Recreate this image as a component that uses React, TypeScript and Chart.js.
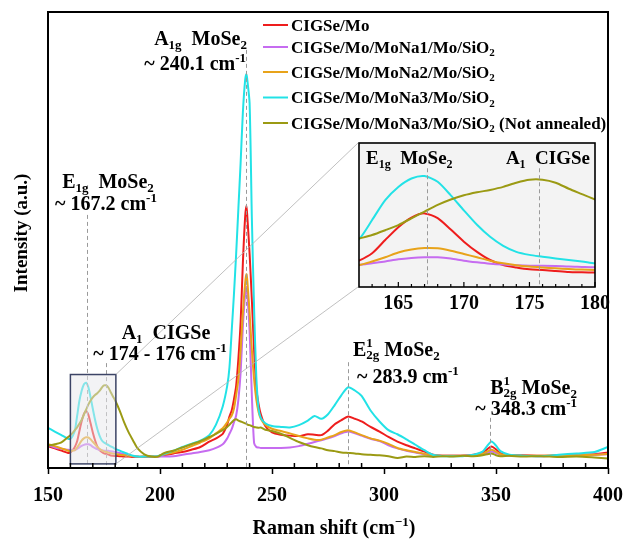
import React, { useEffect, useRef } from "react";
import { Chart, registerables } from "chart.js";

Chart.register(...registerables);

const FONT = '"Liberation Serif", "Times New Roman", serif';

// Raman shift (cm-1) sample positions
const ramanShift = [
  150, 153, 156, 159,
  160, 161, 162, 163, 164, 165, 166, 167, 168, 169, 170,
  171, 172, 173, 174, 175, 176, 177, 178, 179, 180,
  182, 184, 186, 188, 190,
  193, 196, 199, 202,
  206, 210, 214, 218, 222,
  225, 228, 230, 231, 232, 233, 234, 235, 236, 237, 238,
  238.6, 239, 240, 241, 242, 243, 244, 245,
  247, 250, 254, 258, 262, 266, 269, 272, 275, 278, 281, 284, 287, 290,
  294, 298, 302, 306, 310, 314, 318, 322, 326, 330,
  335, 340, 344, 346, 348, 350, 352, 356,
  362, 370, 378, 386, 394, 400,
];

const cigseMo = [
  4.8, 4.3, 3.8, 3.3,
  3.4, 3.9, 4.64, 5.86, 8.07, 10.2, 11.8, 12.5, 11.7, 9.8, 7.8,
  6.1, 4.75, 3.9, 3.5, 3.2, 3.1, 2.93, 2.76, 2.7, 2.65,
  2.6, 2.5, 2.5, 2.4, 2.4,
  2.4, 2.4, 2.5, 2.8,
  3.2, 3.5, 4.0, 4.6, 5.8,
  6.5, 7.5, 9.5, 11.3, 12.6, 15, 18, 24, 32, 45, 55,
  57.5, 55, 47, 37, 26, 17.5, 14, 11.8,
  9.2, 7.8, 7.3, 7.1, 7.0, 7.4, 7.3, 7.2, 8.2, 9.6, 10.5, 11.3, 10.8, 10.2,
  9.0, 8.0, 6.8, 5.8, 5.0, 4.3, 3.6, 2.9, 2.7, 2.7,
  2.7, 2.9, 3.4, 4.1, 4.7, 4.1, 3.2, 2.8,
  2.8, 2.7, 2.8, 2.9, 3.0, 3.4,
];

const moNa1 = [
  5.0, 4.5, 4.2, 4.0,
  3.9, 3.9, 3.9, 4.2, 4.5, 4.86, 5.08, 5.2, 5.2, 5.0, 4.64,
  4.37, 4.14, 3.98, 3.87, 3.8, 3.8, 3.76, 3.65, 3.6, 3.54,
  3.3, 3.0, 2.8, 2.6, 2.5,
  2.5, 2.5, 2.5, 2.5,
  2.6, 2.9, 3.2, 3.5, 3.9,
  4.4, 5.2, 6.5, 7.5, 8.5, 10, 11.5, 15, 21, 31, 38,
  39.8, 38, 30, 16, 5.5, 4.6, 4.5, 4.4,
  4.4, 4.4, 4.4, 4.5, 4.8, 5.3, 5.7, 6.1, 6.5, 7.0, 7.6, 8.0, 7.6, 7.1,
  6.4, 5.9, 5.0, 4.3, 3.8, 3.4, 3.0, 2.8, 2.7, 2.7,
  2.7, 2.8, 3.0, 3.3, 3.6, 3.3, 2.9, 2.7,
  2.7, 2.6, 2.7, 2.8, 2.9, 3.0,
];

const moNa2 = [
  5.2, 4.8, 4.3, 3.8,
  3.7, 3.8, 3.9, 4.5, 5.2, 6.0, 6.5, 6.74, 6.69, 6.3, 5.75,
  5.2, 4.64, 4.2, 3.87, 3.65, 3.5, 3.37, 3.26, 3.15, 3.1,
  2.9, 2.8, 2.7, 2.6, 2.5,
  2.5, 2.5, 2.6, 3.0,
  3.4, 4.0, 4.8, 5.6, 6.5,
  7.6, 8.7, 10, 10.8, 11.5, 13, 16, 19.5, 26, 34, 40.5,
  42.5, 41, 34, 26, 19.5, 15, 12.3, 10.8,
  9.5, 8.6, 8.1, 7.6, 7.0, 6.5, 6.2, 6.2, 6.7, 7.2, 7.9, 8.3, 7.8, 7.2,
  6.5, 6.0, 5.3, 4.4, 3.9, 3.5, 3.1, 2.8, 2.7, 2.7,
  2.7, 2.8, 3.1, 3.6, 4.0, 3.6, 3.0, 2.8,
  2.7, 2.7, 2.8, 2.8, 2.9, 3.1,
];

const moNa3 = [
  8.8, 8.0, 7.2, 6.4,
  6.4, 7.0, 8.2, 11.4, 14.7, 16.9, 18.3, 18.7, 17.75, 15.5, 13.0,
  10.6, 8.6, 7.1, 6.1, 5.6, 5.3, 5.0, 4.75, 4.5, 4.2,
  3.8, 3.4, 3.0, 2.7, 2.5,
  2.5, 2.5, 2.6, 3.1,
  3.8, 4.6, 5.3, 6.0, 7.2,
  9.5, 13.5, 18, 22, 30, 38, 47, 57, 67, 78, 85,
  86.4, 85, 80, 55, 35, 20, 13, 11,
  9.8, 9.2, 9.0, 8.9, 9.4, 10.4, 11.4, 10.8, 11.8, 13.8, 16.0, 17.7, 17.0, 15.8,
  12.6, 10.2, 8.3, 7.4, 6.3, 5.1, 3.9, 2.85, 2.6, 2.6,
  2.6, 2.9, 3.6, 4.8, 5.8, 4.9, 3.7, 2.9,
  2.7, 2.6, 2.9, 3.2, 3.5, 4.6,
];

const moNa3NotAnnealed = [
  4.9, 5.2, 5.6, 6.8,
  7.2, 7.7, 8.3, 8.9, 9.7, 10.56, 11.67, 12.8, 13.9, 14.8, 15.5,
  16.0, 16.4, 16.9, 17.6, 18.1, 18.1, 17.6, 16.6, 15.7, 14.8,
  12.6, 10.0, 7.8, 6.0, 4.3,
  3.0, 2.5, 2.5, 3.3,
  3.8, 4.5, 5.2, 5.9, 6.8,
  7.5, 8.3, 9.0, 9.5, 10.0, 10.5, 10.7, 10.4, 10.2, 10.0, 9.8,
  9.7, 9.5, 9.4, 9.2, 9.0, 8.9, 8.8, 8.9,
  8.4, 8.1, 7.5, 6.6, 5.7, 5.0, 4.6, 4.3, 3.9, 3.7, 3.4, 3.3, 3.2, 3.0,
  2.9, 2.8, 2.6, 2.2, 2.5, 2.4, 2.6, 2.4, 2.6, 2.5,
  2.7, 2.6, 2.8, 3.0, 3.2, 2.8, 2.6, 2.7,
  2.5, 2.6, 2.4, 2.5, 2.3, 2.1,
];

const seriesNames = [
  "CIGSe/Mo",
  "CIGSe/Mo/MoNa1/Mo/SiO2",
  "CIGSe/Mo/MoNa2/Mo/SiO2",
  "CIGSe/Mo/MoNa3/Mo/SiO2",
  "CIGSe/Mo/MoNa3/Mo/SiO2 (Not annealed)",
];
const seriesColors = ["#ee1d1d", "#c66cf0", "#e8a31a", "#22e2e6", "#9b9a13"];
const seriesValues = [cigseMo, moNa1, moNa2, moNa3, moNa3NotAnnealed];

const xTicks = [150, 200, 250, 300, 350, 400];
const xMinorTicks = [160, 170, 180, 190, 210, 220, 230, 240, 260, 270, 280, 290, 310, 320, 330, 340, 360, 370, 380, 390];
const insetTicks = [165, 170, 175, 180];
const insetMinorTicks = [163, 164, 166, 167, 168, 169, 171, 172, 173, 174, 176, 177, 178, 179];

// dashed peak markers: [shift, top intensity]
const peakMarkers = [
  [167.2, 55.5],
  [175.7, 23],
  [238.5, 91.7],
  [283.9, 23.2],
  [347.5, 11],
];
const insetMarkers = [167.2, 175.7];
// zoom region shown in the inset
const zoomBox = { x0: 160, x1: 180.3, y0: 0.9, y1: 20.5 };
const insetRange = { xMin: 162, xMax: 180, yMin: 0.26, yMax: 24.2 };

type Seg = { t: string; k?: "sub" | "sup" | "stack"; s?: string };

const legendLabels: Seg[][] = [
  [{ t: "CIGSe/Mo" }],
  [{ t: "CIGSe/Mo/MoNa1/Mo/SiO" }, { t: "2", k: "sub" }],
  [{ t: "CIGSe/Mo/MoNa2/Mo/SiO" }, { t: "2", k: "sub" }],
  [{ t: "CIGSe/Mo/MoNa3/Mo/SiO" }, { t: "2", k: "sub" }],
  [{ t: "CIGSe/Mo/MoNa3/Mo/SiO" }, { t: "2", k: "sub" }, { t: " (Not annealed)" }],
];
const legendRows = [25, 47, 72, 97.5, 123];

type Note = { segs: Seg[]; x: number; y: number; align: "left" | "right" | "center" };
const notes: Note[] = [
  { segs: [{ t: "A" }, { t: "1g", k: "sub" }, { t: "  MoSe" }, { t: "2", k: "sub" }], x: 247, y: 38, align: "right" },
  { segs: [{ t: "~ 240.1 cm" }, { t: "-1", k: "sup" }], x: 246, y: 63, align: "right" },
  { segs: [{ t: "E" }, { t: "1g", k: "sub" }, { t: "  MoSe" }, { t: "2", k: "sub" }], x: 108, y: 181, align: "center" },
  { segs: [{ t: "~ 167.2 cm" }, { t: "-1", k: "sup" }], x: 106, y: 203, align: "center" },
  { segs: [{ t: "A" }, { t: "1", k: "sub" }, { t: "  CIGSe" }], x: 166, y: 332, align: "center" },
  { segs: [{ t: "~ 174 - 176 cm" }, { t: "-1", k: "sup" }], x: 160, y: 353, align: "center" },
  { segs: [{ t: "E" }, { t: "1", k: "stack", s: "2g" }, { t: " MoSe" }, { t: "2", k: "sub" }], x: 353, y: 349, align: "left" },
  { segs: [{ t: "~ 283.9 cm" }, { t: "-1", k: "sup" }], x: 357, y: 376, align: "left" },
  { segs: [{ t: "B" }, { t: "1", k: "stack", s: "2g" }, { t: " MoSe" }, { t: "2", k: "sub" }], x: 577, y: 387, align: "right" },
  { segs: [{ t: "~ 348.3 cm" }, { t: "-1", k: "sup" }], x: 577, y: 408, align: "right" },
];
const insetNotes: Note[] = [
  { segs: [{ t: "E" }, { t: "1g", k: "sub" }, { t: "  MoSe" }, { t: "2", k: "sub" }], x: 36, y: 28, align: "left" },
  { segs: [{ t: "A" }, { t: "1", k: "sub" }, { t: "  CIGSe" }], x: 260, y: 28, align: "right" },
];

function segWidth(ctx: CanvasRenderingContext2D, seg: Seg, size: number) {
  const small = Math.round(size * 0.65);
  if (!seg.k) {
    ctx.font = `bold ${size}px ${FONT}`;
    return ctx.measureText(seg.t).width;
  }
  ctx.font = `bold ${small}px ${FONT}`;
  const w = ctx.measureText(seg.t).width;
  if (seg.k === "stack") return Math.max(w, ctx.measureText(seg.s || "").width);
  return w;
}

function drawRich(ctx: CanvasRenderingContext2D, segs: Seg[], x: number, y: number, align: string, size: number) {
  const widths = segs.map((s) => segWidth(ctx, s, size));
  const total = widths.reduce((a, b) => a + b, 0);
  let cx = align === "left" ? x : align === "right" ? x - total : x - total / 2;
  const base = y + size * 0.33;
  const small = Math.round(size * 0.65);
  ctx.save();
  ctx.fillStyle = "#000";
  ctx.textAlign = "left";
  ctx.textBaseline = "alphabetic";
  segs.forEach((s, i) => {
    if (!s.k) {
      ctx.font = `bold ${size}px ${FONT}`;
      ctx.fillText(s.t, cx, base);
    } else {
      ctx.font = `bold ${small}px ${FONT}`;
      if (s.k === "sub") ctx.fillText(s.t, cx, base + size * 0.22);
      else if (s.k === "sup") ctx.fillText(s.t, cx, base - size * 0.38);
      else {
        ctx.fillText(s.t, cx, base - size * 0.42);
        ctx.fillText(s.s || "", cx, base + size * 0.15);
      }
    }
    cx += widths[i];
  });
  ctx.restore();
}

function makeDatasets() {
  return seriesValues.map((vals, i) => ({
    label: seriesNames[i],
    data: ramanShift.map((x, j) => ({ x, y: vals[j] })),
    borderColor: seriesColors[i],
    backgroundColor: seriesColors[i],
    borderWidth: 2,
    pointRadius: 0,
    tension: 0.25,
    fill: false,
    order: seriesValues.length - 1 - i,
  }));
}

const mainPlugin = {
  id: "ramanMainDecor",
  afterDatasetsDraw(chart: any) {
    const ctx: CanvasRenderingContext2D = chart.ctx;
    const { left, right, top, bottom } = chart.chartArea;
    const xs = chart.scales.x;
    const ys = chart.scales.y;
    ctx.save();
    // dashed peak markers
    ctx.strokeStyle = "#9a9a9a";
    ctx.lineWidth = 1;
    ctx.setLineDash([4, 3]);
    peakMarkers.forEach(([v, t]) => {
      const px = Math.round(xs.getPixelForValue(v)) + 0.5;
      ctx.beginPath();
      ctx.moveTo(px, ys.getPixelForValue(t));
      ctx.lineTo(px, bottom);
      ctx.stroke();
    });
    ctx.setLineDash([]);
    // zoom box
    const bx0 = xs.getPixelForValue(zoomBox.x0);
    const bx1 = xs.getPixelForValue(zoomBox.x1);
    const by0 = ys.getPixelForValue(zoomBox.y1);
    const by1 = ys.getPixelForValue(zoomBox.y0);
    ctx.fillStyle = "rgba(232,232,236,0.5)";
    ctx.fillRect(bx0, by0, bx1 - bx0, by1 - by0);
    ctx.strokeStyle = "#3c4466";
    ctx.lineWidth = 1.5;
    ctx.strokeRect(bx0, by0, bx1 - bx0, by1 - by0);
    // connectors to inset (inset plot corners at 358,143 and 358,287)
    ctx.strokeStyle = "#b0b0b0";
    ctx.lineWidth = 0.8;
    ctx.beginPath();
    ctx.moveTo(bx1, by0);
    ctx.lineTo(358, 143);
    ctx.moveTo(bx1, by1);
    ctx.lineTo(358, 287);
    ctx.stroke();
    // minor ticks (inward)
    ctx.strokeStyle = "#000";
    ctx.lineWidth = 1.5;
    ctx.beginPath();
    xMinorTicks.forEach((v) => {
      const px = xs.getPixelForValue(v);
      ctx.moveTo(px, bottom);
      ctx.lineTo(px, bottom - 5);
    });
    ctx.stroke();
    // frame
    ctx.lineWidth = 2;
    ctx.strokeRect(left, top, right - left, bottom - top);
    ctx.restore();
  },
  afterDraw(chart: any) {
    const ctx: CanvasRenderingContext2D = chart.ctx;
    notes.forEach((n) => drawRich(ctx, n.segs, n.x, n.y, n.align, 20));
    // legend
    ctx.save();
    legendRows.forEach((ry, i) => {
      ctx.strokeStyle = seriesColors[i];
      ctx.lineWidth = 2;
      ctx.beginPath();
      ctx.moveTo(263, ry);
      ctx.lineTo(288, ry);
      ctx.stroke();
      drawRich(ctx, legendLabels[i], 291, ry, "left", 17);
    });
    ctx.restore();
    // axis titles
    drawRich(ctx, [{ t: "Raman shift (cm" }, { t: "\u22121", k: "sup" }, { t: ")" }], 334, 527, "center", 20);
    ctx.save();
    ctx.translate(21, 233);
    ctx.rotate(-Math.PI / 2);
    drawRich(ctx, [{ t: "Intensity (a.u.)" }], 0, 0, "center", 19);
    ctx.restore();
  },
};

const insetPlugin = {
  id: "ramanInsetDecor",
  beforeDatasetsDraw(chart: any) {
    const ctx: CanvasRenderingContext2D = chart.ctx;
    const { left, right, top, bottom } = chart.chartArea;
    ctx.save();
    ctx.fillStyle = "#f3f3f3";
    ctx.fillRect(left, top, right - left, bottom - top);
    ctx.restore();
  },
  afterDatasetsDraw(chart: any) {
    const ctx: CanvasRenderingContext2D = chart.ctx;
    const { left, right, top, bottom } = chart.chartArea;
    const xs = chart.scales.x;
    const ys = chart.scales.y;
    ctx.save();
    ctx.strokeStyle = "#9a9a9a";
    ctx.lineWidth = 1;
    ctx.setLineDash([4, 3]);
    insetMarkers.forEach((v) => {
      const px = Math.round(xs.getPixelForValue(v)) + 0.5;
      ctx.beginPath();
      ctx.moveTo(px, ys.getPixelForValue(20));
      ctx.lineTo(px, bottom);
      ctx.stroke();
    });
    ctx.setLineDash([]);
    ctx.strokeStyle = "#000";
    ctx.lineWidth = 1.2;
    ctx.beginPath();
    insetMinorTicks.forEach((v) => {
      const px = xs.getPixelForValue(v);
      ctx.moveTo(px, bottom);
      ctx.lineTo(px, bottom - 3);
    });
    insetTicks.forEach((v) => {
      const px = xs.getPixelForValue(v);
      ctx.moveTo(px, bottom);
      ctx.lineTo(px, bottom - 5);
    });
    ctx.stroke();
    ctx.lineWidth = 1.6;
    ctx.strokeRect(left, top, right - left, bottom - top);
    ctx.restore();
  },
  afterDraw(chart: any) {
    const ctx: CanvasRenderingContext2D = chart.ctx;
    insetNotes.forEach((n) => drawRich(ctx, n.segs, n.x, n.y, n.align, 19));
  },
};

export default function App() {
  const mainRef = useRef<HTMLCanvasElement>(null);
  const insetRef = useRef<HTMLCanvasElement>(null);

  useEffect(() => {
    const tickFont = { family: FONT, size: 20, weight: "bold" as const };
    const main = new Chart(mainRef.current as HTMLCanvasElement, {
      type: "line",
      data: { datasets: makeDatasets() as any },
      options: {
        animation: false,
        responsive: false,
        layout: { padding: { left: 0, top: 12, right: 18, bottom: 0 } },
        plugins: { legend: { display: false }, tooltip: { enabled: false } },
        scales: {
          x: {
            type: "linear",
            min: 150,
            max: 400,
            afterBuildTicks: (s: any) => {
              s.ticks = xTicks.map((v) => ({ value: v }));
            },
            afterFit: (s: any) => {
              s.height = 75;
            },
            ticks: { font: tickFont, color: "#000", padding: 10, maxRotation: 0, autoSkip: false },
            grid: { drawOnChartArea: false, drawTicks: true, tickLength: 6, tickColor: "#000", tickWidth: 1.5 },
            border: { display: false },
          },
          y: {
            type: "linear",
            min: 0,
            max: 100,
            afterFit: (s: any) => {
              s.width = 48;
            },
            ticks: { display: false },
            grid: { display: false },
            border: { display: false },
          },
        },
      } as any,
      plugins: [mainPlugin],
    });

    const inset = new Chart(insetRef.current as HTMLCanvasElement, {
      type: "line",
      data: { datasets: makeDatasets() as any },
      options: {
        animation: false,
        responsive: false,
        layout: { padding: { left: 0, top: 13, right: 25, bottom: 0 } },
        plugins: { legend: { display: false }, tooltip: { enabled: false } },
        scales: {
          x: {
            type: "linear",
            min: insetRange.xMin,
            max: insetRange.xMax,
            afterBuildTicks: (s: any) => {
              s.ticks = insetTicks.map((v) => ({ value: v }));
            },
            afterFit: (s: any) => {
              s.height = 33;
            },
            ticks: { font: tickFont, color: "#000", padding: 5, maxRotation: 0, autoSkip: false },
            grid: { drawOnChartArea: false, drawTicks: false },
            border: { display: false },
          },
          y: {
            type: "linear",
            min: insetRange.yMin,
            max: insetRange.yMax,
            afterFit: (s: any) => {
              s.width = 29;
            },
            ticks: { display: false },
            grid: { display: false },
            border: { display: false },
          },
        },
      } as any,
      plugins: [insetPlugin],
    });

    return () => {
      main.destroy();
      inset.destroy();
    };
  }, []);

  return (
    <div style={{ position: "absolute", left: 0, top: 0, width: 633, height: 543, background: "#fff" }}>
      <canvas ref={mainRef} width={633} height={543} style={{ position: "absolute", left: 0, top: 0, width: 633, height: 543 }} />
      <canvas ref={insetRef} width={290} height={190} style={{ position: "absolute", left: 330, top: 130, width: 290, height: 190 }} />
    </div>
  );
}
